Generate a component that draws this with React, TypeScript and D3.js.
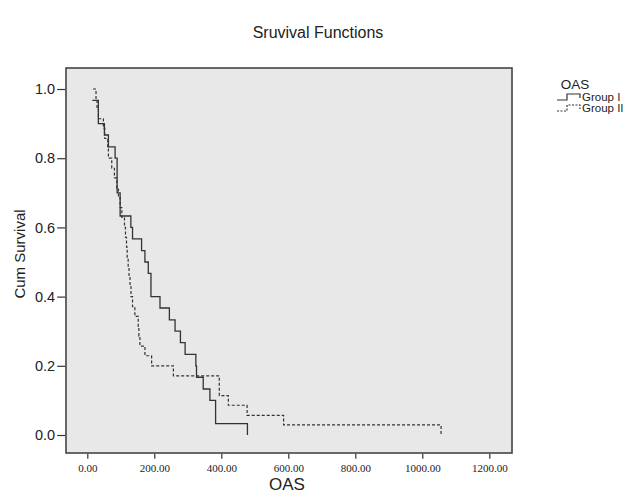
import React, { useRef, useEffect } from 'react';
import * as d3 from 'd3';

// Kaplan-Meier steps: time (OAS) and cumulative survival
const group1Times = [15, 33, 51, 63, 83, 89, 98, 130, 135, 162, 172, 182, 190, 217, 245, 262, 278, 292, 324, 326, 346, 366, 383, 478];
const group1Surv = [0.967, 0.9, 0.867, 0.833, 0.8, 0.7, 0.633, 0.6, 0.567, 0.533, 0.5, 0.467, 0.4, 0.367, 0.333, 0.3, 0.267, 0.233, 0.2, 0.167, 0.133, 0.1, 0.033, 0];

const group2Times = [17, 26, 29, 33, 48, 52, 61, 63, 73, 81, 88, 93, 98, 103, 111, 114, 117, 119, 122, 124.5, 127.5, 130.4, 135, 142, 152, 154, 157, 172, 192, 257, 394, 421, 477, 586, 1056];
const group2Surv = [1.0, 0.971, 0.943, 0.914, 0.886, 0.857, 0.829, 0.8, 0.771, 0.743, 0.714, 0.686, 0.657, 0.629, 0.6, 0.571, 0.543, 0.514, 0.486, 0.457, 0.429, 0.4, 0.371, 0.343, 0.314, 0.286, 0.257, 0.229, 0.2, 0.171, 0.114, 0.086, 0.057, 0.029, 0];

const xTicks = [0, 200, 400, 600, 800, 1000, 1200];
const yTicks = [0, 0.2, 0.4, 0.6, 0.8, 1.0];
const groupNames = ['Group I', 'Group II'];

const W = 636, H = 494;
const plot = { left: 66, right: 512, top: 68, bottom: 453 };

const App = () => {
  const ref = useRef<SVGSVGElement>(null);

  useEffect(() => {
    const svg = d3.select(ref.current);
    svg.selectAll('*').remove();

    const x = d3.scaleLinear().domain([-63.6, 1267.8]).range([plot.left, plot.right]);
    const y = d3.scaleLinear().domain([-0.052, 1.0607]).range([plot.bottom, plot.top]);

    svg.append('rect').attr('width', W).attr('height', H).attr('fill', '#fff');

    svg.append('text').attr('x', 318).attr('y', 38).attr('text-anchor', 'middle')
      .style('font-family', 'Liberation Sans, Arial, sans-serif').style('font-size', '16px')
      .attr('fill', '#222').text('Sruvival Functions');

    svg.append('rect')
      .attr('x', plot.left).attr('y', plot.top)
      .attr('width', plot.right - plot.left).attr('height', plot.bottom - plot.top)
      .attr('fill', '#e8e8e8').attr('stroke', '#444').attr('stroke-width', 1.6);

    const yAxis = svg.append('g').attr('transform', `translate(${plot.left - 0.8},0)`)
      .call(d3.axisLeft(y).tickValues(yTicks).tickFormat(d3.format('.1f')).tickSize(8).tickPadding(2));
    yAxis.select('.domain').remove();
    yAxis.selectAll('line').attr('stroke', '#333').attr('stroke-width', 1.2);
    yAxis.selectAll('text').style('font-family', 'Liberation Sans, Arial, sans-serif')
      .style('font-size', '14.5px').attr('fill', '#222');

    const xAxis = svg.append('g').attr('transform', `translate(0,${plot.bottom + 0.8})`)
      .call(d3.axisBottom(x).tickValues(xTicks).tickFormat(d3.format('.2f')).tickSize(5).tickPadding(5));
    xAxis.select('.domain').remove();
    xAxis.selectAll('line').attr('stroke', '#333').attr('stroke-width', 1.2);
    xAxis.selectAll('text').style('font-family', 'Liberation Serif, serif')
      .style('font-size', '11px').attr('fill', '#222');

    svg.append('text').attr('x', 287).attr('y', 490).attr('text-anchor', 'middle')
      .style('font-family', 'Liberation Sans, Arial, sans-serif').style('font-size', '17px')
      .attr('fill', '#222').text('OAS');

    svg.append('text').attr('transform', `translate(25,254) rotate(-90)`).attr('text-anchor', 'middle')
      .style('font-family', 'Liberation Sans, Arial, sans-serif').style('font-size', '15px')
      .attr('fill', '#222').text('Cum Survival');

    const line = d3.line<[number, number]>()
      .x(d => x(d[0])).y(d => y(d[1])).curve(d3.curveStepAfter);

    const g1 = group1Times.map((t, i) => [t, group1Surv[i]] as [number, number]);
    const g2 = group2Times.map((t, i) => [t, group2Surv[i]] as [number, number]);

    svg.append('path').attr('d', line(g2)).attr('fill', 'none')
      .attr('stroke', '#333').attr('stroke-width', 1.2).attr('stroke-dasharray', '3,2');
    svg.append('path').attr('d', line(g1)).attr('fill', 'none')
      .attr('stroke', '#333').attr('stroke-width', 1.3);

    // legend
    const lg = svg.append('g');
    lg.append('text').attr('x', 575).attr('y', 89).attr('text-anchor', 'middle')
      .style('font-family', 'Liberation Sans, Arial, sans-serif').style('font-size', '13.5px')
      .attr('fill', '#222').text('OAS');
    groupNames.forEach((name, i) => {
      const yy = 100 + i * 11;
      lg.append('path')
        .attr('d', `M557,${yy} H567 V${yy - 6} H580 V${yy - 2}`)
        .attr('fill', 'none').attr('stroke', '#333').attr('stroke-width', 1.2)
        .attr('stroke-dasharray', i === 1 ? '2,1.5' : null);
      lg.append('text').attr('x', 582).attr('y', yy + 1)
        .style('font-family', 'Liberation Sans, Arial, sans-serif').style('font-size', '11.5px')
        .attr('fill', '#222').text(name);
    });
  }, []);

  return (
    <svg ref={ref} width={W} height={H} style={{ position: 'absolute', left: 0, top: 0 }} />
  );
};

export default App;
